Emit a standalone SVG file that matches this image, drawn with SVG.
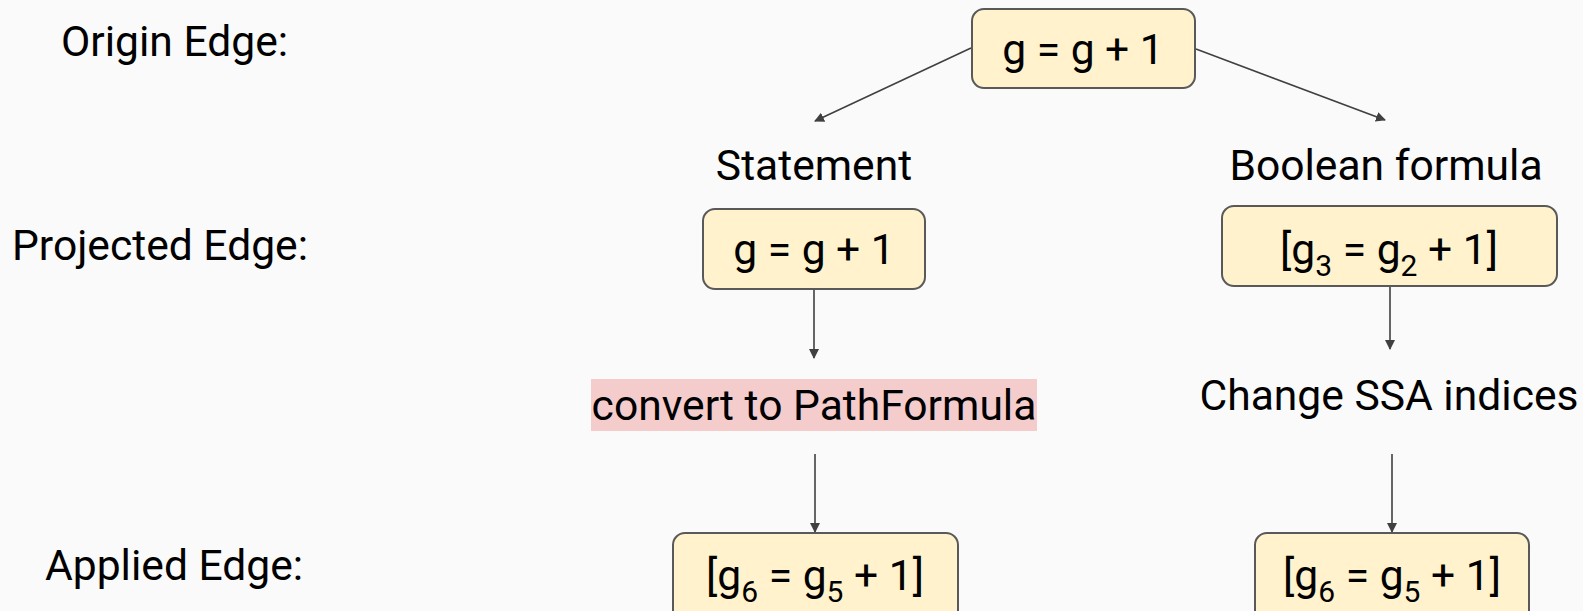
<svg xmlns="http://www.w3.org/2000/svg" width="1583" height="611" viewBox="0 0 1583 611">
<defs>
<style>
.bg{fill:#fafafa}
.box{fill:#fff2cc;stroke:#595959;stroke-width:2}
.t{font-family:Roboto,"Liberation Sans",sans-serif;font-size:42.6px;fill:#000}
.lbl{font-family:Roboto,"Liberation Sans",sans-serif;font-size:42.6px;fill:#000}
.c{text-anchor:middle}
.sub{font-size:30px}
.edge{stroke:#404040;stroke-width:1.6;fill:none;marker-end:url(#ah)}
</style>
<marker id="ah" viewBox="0 0 10 10" refX="9" refY="5" markerWidth="10" markerHeight="10" markerUnits="userSpaceOnUse" orient="auto">
<path d="M0,0 L10,5 L0,10 z" fill="#404040"/>
</marker>
</defs>
<rect class="bg" x="0" y="0" width="1583" height="611"/>
<g id="labels">
<text class="lbl" x="61" y="56">Origin Edge:</text>
<text class="lbl" x="12" y="260">Projected Edge:</text>
<text class="lbl" x="45" y="580">Applied Edge:</text>
</g>
<g id="connectors">
<line class="edge" x1="971" y1="48" x2="815" y2="121"/>
<line class="edge" x1="1196" y1="49" x2="1385" y2="120"/>
<line class="edge" x1="814" y1="289" x2="814" y2="358"/>
<line class="edge" x1="1390" y1="286" x2="1390" y2="349"/>
<line class="edge" x1="815" y1="454" x2="815" y2="532"/>
<line class="edge" x1="1392" y1="454" x2="1392" y2="532"/>
</g>
<g id="origin">
<rect class="box" x="972" y="9" width="223" height="79" rx="12"/>
<text class="t c" x="1083" y="64">g = g + 1</text>
</g>
<g id="statement-label">
<text class="t c" x="814" y="180">Statement</text>
</g>
<g id="boolean-label">
<text class="t c" x="1386" y="180">Boolean formula</text>
</g>
<g id="projected-statement">
<rect class="box" x="703" y="209" width="222" height="80" rx="12"/>
<text class="t c" x="814" y="264">g = g + 1</text>
</g>
<g id="projected-formula">
<rect class="box" x="1222" y="206" width="335" height="80" rx="12"/>
<text class="t c" x="1389" y="264">[g<tspan class="sub" dy="12">3</tspan><tspan dy="-12"> = g</tspan><tspan class="sub" dy="12">2</tspan><tspan dy="-12"> + 1]</tspan></text>
</g>
<g id="convert">
<rect x="591" y="379" width="446" height="52" fill="#f4cccc"/>
<text class="t c" x="814" y="420">convert to PathFormula</text>
</g>
<g id="change-ssa">
<text class="t c" x="1389" y="410">Change SSA indices</text>
</g>
<g id="applied-statement">
<rect class="box" x="673" y="533" width="285" height="90" rx="12"/>
<text class="t c" x="815" y="590">[g<tspan class="sub" dy="12">6</tspan><tspan dy="-12"> = g</tspan><tspan class="sub" dy="12">5</tspan><tspan dy="-12"> + 1]</tspan></text>
</g>
<g id="applied-formula">
<rect class="box" x="1255" y="533" width="274" height="90" rx="12"/>
<text class="t c" x="1392" y="590">[g<tspan class="sub" dy="12">6</tspan><tspan dy="-12"> = g</tspan><tspan class="sub" dy="12">5</tspan><tspan dy="-12"> + 1]</tspan></text>
</g>
</svg>
